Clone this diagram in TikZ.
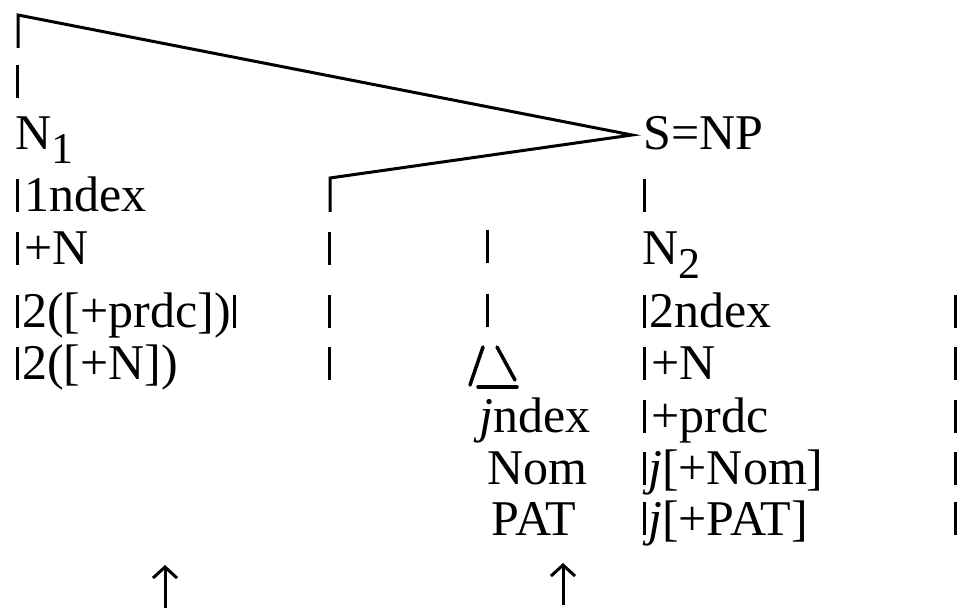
\documentclass[tikz,border=0pt]{standalone}
\usepackage{fontspec}
\setmainfont{Liberation Serif}
\usetikzlibrary{arrows.meta}
\newcommand\myvbar{\rule{3pt}{33pt}}
\newcommand\mysub[1]{\raisebox{-14pt}{\fontsize{44}{50}\selectfont #1}}
\begin{document}
\begin{tikzpicture}[x=1pt,y=-1pt,
  txt/.style={inner sep=0pt, anchor=base west, font=\fontsize{50}{60}\selectfont},
  ctxt/.style={inner sep=0pt, anchor=base, font=\fontsize{50}{60}\selectfont},
  ln/.style={line width=3pt},
  tri/.style={line width=3.5pt, line cap=round},
  uparr/.style={line width=3pt, -{Straight Barb[length=11pt,width=24pt,line width=3pt]}}]
\useasboundingbox (0,0) rectangle (959,609);
% top-left bracket
\coordinate (tl0) at (18,48);
\coordinate (tl) at (18,15);
\coordinate (apex) at (632,135);
\coordinate (mid) at (330,178);
\coordinate (mid0) at (330,212);
\draw[ln] (tl0) -- (tl) -- (apex) -- (mid) -- (mid0);
% left column
\node[txt] (b0) at (16,98) {\myvbar};
\node[txt] (n1) at (15,150) {N\mysub{1}};
\node[txt] (l1) at (16,212) {\myvbar\hspace{5pt}1ndex};
\node[txt] (l2) at (16,265) {\myvbar\hspace{5pt}+N};
\node[txt] (l3) at (16,328) {\myvbar\hspace{3pt}2([+prdc])\hspace{2pt}\myvbar};
\node[txt] (l4) at (16,380) {\myvbar\hspace{3pt}2([+N])};
% second column bars
\node[txt] (c1) at (328,265) {\myvbar};
\node[txt] (c2) at (328,328) {\myvbar};
\node[txt] (c3) at (328,380) {\myvbar};
% third column
\node[txt] (d1) at (486,263) {\myvbar};
\node[txt] (d2) at (486,327) {\myvbar};
\coordinate (t1) at (483,347);
\coordinate (t2) at (470,385);
\coordinate (t3) at (497,347);
\coordinate (t4) at (515,380);
\coordinate (t5) at (478,387);
\coordinate (t6) at (517,387);
\draw[tri] (t1) -- (t2);
\draw[tri] (t3) -- (t4);
\draw[tri] (t5) -- (t6);
\node[ctxt] (m1) at (535,433) {\textit{j}ndex};
\node[ctxt] (m2) at (537,485) {Nom};
\node[ctxt] (m3) at (534,535) {PAT};
% right column
\node[txt] (snp) at (643,150) {S=NP};
\node[txt] (r0) at (643,212) {\myvbar};
\node[txt] (n2) at (642,265) {N\mysub{2}};
\node[txt] (r1) at (643,328) {\myvbar\hspace{3pt}2ndex};
\node[txt] (r2) at (643,380) {\myvbar\hspace{5pt}+N};
\node[txt] (r3) at (643,433) {\myvbar\hspace{5pt}+prdc};
\node[txt] (r4) at (643,485) {\myvbar\hspace{2pt}\textit{j}[+Nom]};
\node[txt] (r5) at (643,535) {\myvbar\hspace{2pt}\textit{j}[+PAT]};
% far right bars
\node[txt] (f1) at (954,328) {\myvbar};
\node[txt] (f2) at (954,380) {\myvbar};
\node[txt] (f3) at (954,433) {\myvbar};
\node[txt] (f4) at (954,485) {\myvbar};
\node[txt] (f5) at (954,535) {\myvbar};
% arrows
\coordinate (a1s) at (165,608);
\coordinate (a1e) at (165,565);
\coordinate (a2s) at (563,605);
\coordinate (a2e) at (563,563);
\draw[uparr] (a1s) -- (a1e);
\draw[uparr] (a2s) -- (a2e);
\end{tikzpicture}
\end{document}
